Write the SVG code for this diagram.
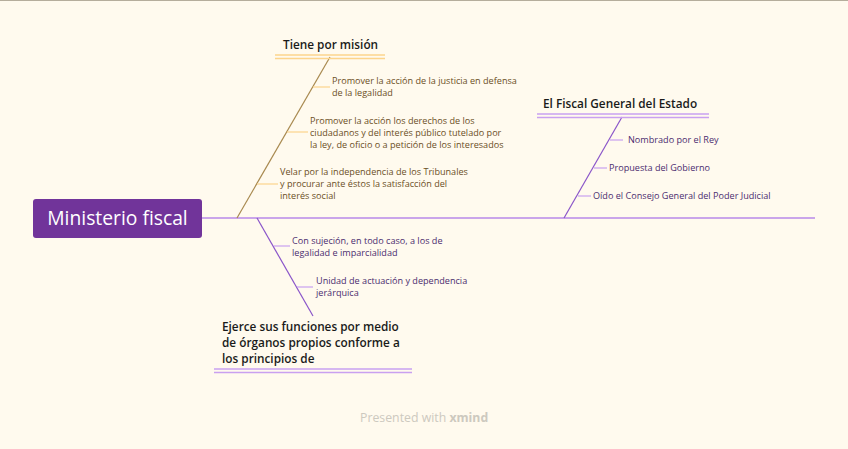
<svg xmlns="http://www.w3.org/2000/svg" width="848" height="449" viewBox="0 0 848 449">
<style>
.bg{fill:#fffaee}
.head{font-family:"Open Sans","Noto Sans",sans-serif;font-size:11.8px;font-weight:600;fill:#1a1a1a}
.gold{font-family:"Open Sans","Noto Sans",sans-serif;font-size:9.1px;fill:#6b4f1f}
.purp{font-family:"Open Sans","Noto Sans",sans-serif;font-size:9.1px;fill:#4b2c6e}
.gl{stroke:#a8894f;stroke-width:1.2;fill:none}
.gt{stroke:#fcd48c;stroke-width:1.2;fill:none}
.pl{stroke:#8a55c9;stroke-width:1.2;fill:none}
.pt{stroke:#c9a0f0;stroke-width:1.2;fill:none}
.gu{stroke:#fcd48c;stroke-width:1.5;fill:none}
.pu{stroke:#c9a0f0;stroke-width:1.5;fill:none}
</style>
<rect class="bg" x="0" y="0" width="848" height="449"/>
<line x1="0" y1="0.5" x2="848" y2="0.5" stroke="#b5ad9c" stroke-width="1"/>
<g id="connectors">
<line x1="202" y1="218" x2="815" y2="218" stroke="#b889e8" stroke-width="1.5"/>
<line class="gl" x1="237" y1="218" x2="330" y2="57"/>
<line class="gt" x1="313" y1="87" x2="330" y2="87"/>
<line class="gt" x1="287" y1="132" x2="308" y2="132"/>
<line class="gt" x1="257" y1="184" x2="278" y2="184"/>
<line class="pl" x1="564" y1="218" x2="622" y2="117"/>
<line class="pt" x1="610" y1="140" x2="623" y2="140"/>
<line class="pt" x1="594" y1="168" x2="607" y2="168"/>
<line class="pt" x1="578" y1="196" x2="591" y2="196"/>
<line class="pl" x1="257" y1="218" x2="313" y2="316"/>
<line class="pt" x1="274" y1="246" x2="290" y2="246"/>
<line class="pt" x1="297" y1="287" x2="313" y2="287"/>
</g>
<g id="root">
<rect x="33" y="199" width="169" height="39" rx="3" fill="#71349a"/>
<text x="117.5" y="225" text-anchor="middle" font-family="Open Sans, Noto Sans, sans-serif" font-size="19.3" font-weight="500" fill="#ffffff">Ministerio fiscal</text>
</g>
<g id="mision">
<text class="head" x="283" y="49">Tiene por misión</text>
<line class="gu" x1="275" y1="55" x2="385" y2="55"/>
<line class="gu" x1="275" y1="58.5" x2="385" y2="58.5"/>
</g>
<g id="m1">
<text class="gold" x="332" y="84">Promover la acción de la justicia en defensa</text>
<text class="gold" x="332" y="96">de la legalidad</text>
</g>
<g id="m2">
<text class="gold" x="310" y="124">Promover la acción los derechos de los</text>
<text class="gold" x="310" y="136">ciudadanos y del interés público tutelado por</text>
<text class="gold" x="310" y="148">la ley, de oficio o a petición de los interesados</text>
</g>
<g id="m3">
<text class="gold" x="280" y="175">Velar por la independencia de los Tribunales</text>
<text class="gold" x="280" y="187">y procurar ante éstos la satisfacción del</text>
<text class="gold" x="280" y="199">interés social</text>
</g>
<g id="fiscal">
<text class="head" x="543" y="108">El Fiscal General del Estado</text>
<line class="pu" x1="537" y1="114" x2="709" y2="114"/>
<line class="pu" x1="537" y1="117.5" x2="709" y2="117.5"/>
</g>
<g id="f1"><text class="purp" x="628" y="143">Nombrado por el Rey</text></g>
<g id="f2"><text class="purp" x="609" y="171">Propuesta del Gobierno</text></g>
<g id="f3"><text class="purp" x="593" y="199">Oído el Consejo General del Poder Judicial</text></g>
<g id="ejerce">
<text class="head" x="222" y="331">Ejerce sus funciones por medio</text>
<text class="head" x="222" y="347">de órganos propios conforme a</text>
<text class="head" x="222" y="363">los principios de</text>
<line class="pu" x1="214" y1="369" x2="412" y2="369"/>
<line class="pu" x1="214" y1="372.5" x2="412" y2="372.5"/>
</g>
<g id="e1">
<text class="purp" x="292" y="244">Con sujeción, en todo caso, a los de</text>
<text class="purp" x="292" y="256">legalidad e imparcialidad</text>
</g>
<g id="e2">
<text class="purp" x="316" y="284">Unidad de actuación y dependencia</text>
<text class="purp" x="316" y="296">jerárquica</text>
</g>
<text x="360" y="422" font-family="Open Sans, Noto Sans, sans-serif" font-size="12.3" fill="#cdc9bf">Presented with <tspan font-weight="700">xmind</tspan></text>
</svg>
